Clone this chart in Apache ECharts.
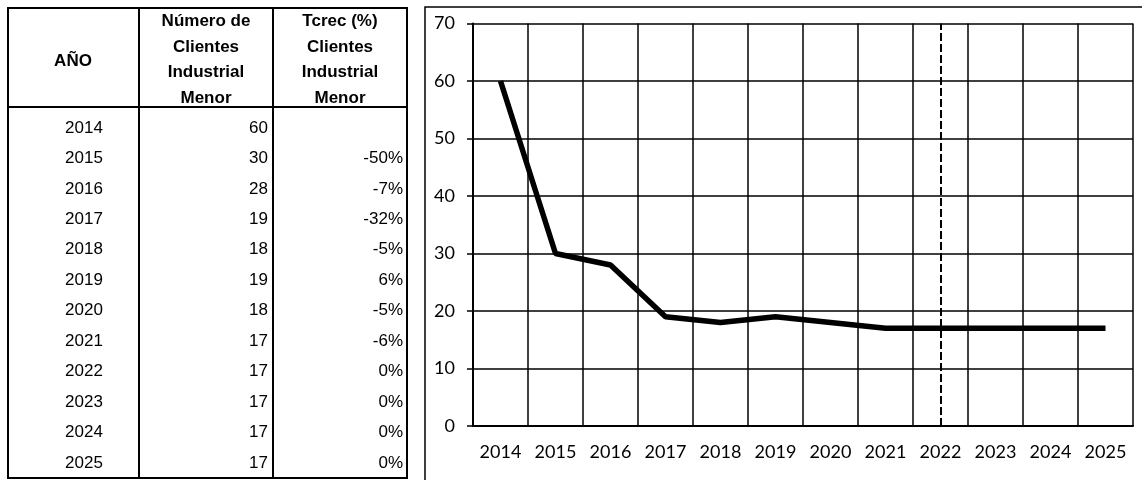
<!DOCTYPE html>
<html>
<head>
<meta charset="utf-8">
<script src="https://cdn.jsdelivr.net/npm/echarts@6/dist/echarts.min.js"></script>
<style>
  html, body { margin: 0; padding: 0; background: #fff; }
  #chart { width: 1142px; height: 480px; }
</style>
</head>
<body>
<div id="chart"></div>
<script>
const years = ['2014', '2015', '2016', '2017', '2018', '2019', '2020', '2021', '2022', '2023', '2024', '2025']
const clientes = [60, 30, 28, 19, 18, 19, 18, 17, 17, 17, 17, 17]
const tcrec = ['', '-50%', '-7%', '-32%', '-5%', '6%', '-5%', '-6%', '0%', '0%', '0%', '0%']
const yTicks = [0, 10, 20, 30, 40, 50, 60, 70]
const corte = '2022'

const chart = echarts.init(document.getElementById('chart'))

// tabla de la izquierda
const tableFont = 'Liberation Sans, Arial, sans-serif'
const line = (x1, y1, x2, y2) => ({
  type: 'line',
  shape: { x1, y1, x2, y2 },
  style: { stroke: '#000', lineWidth: 2 }
})
const txt = (x, y, text, align, bold) => ({
  type: 'text',
  x, y,
  style: {
    text,
    fill: '#000',
    font: (bold ? 'bold ' : '') + '17px ' + tableFont,
    align,
    verticalAlign: 'middle',
    lineHeight: 25.5
  }
})

const graphics = [
  { type: 'rect', shape: { x: 8, y: 8, width: 399, height: 470 }, style: { fill: 'none', stroke: '#000', lineWidth: 2 } },
  line(139, 8, 139, 478),
  line(273, 8, 273, 478),
  line(8, 107, 407, 107),
  txt(73, 61, 'AÑO', 'center', true),
  txt(206, 60, 'Número de\nClientes\nIndustrial\nMenor', 'center', true),
  txt(340, 60, 'Tcrec (%)\nClientes\nIndustrial\nMenor', 'center', true),
  // marco del gráfico
  { type: 'rect', shape: { x: 425, y: 7, width: 730, height: 480 }, style: { fill: 'none', stroke: '#000', lineWidth: 1.5 } }
]
years.forEach((yr, i) => {
  const y = 128 + i * 30.45
  graphics.push(txt(84, y, yr, 'center', false))
  graphics.push(txt(268, y, String(clientes[i]), 'right', false))
  if (tcrec[i]) graphics.push(txt(403, y, tcrec[i], 'right', false))
})

const axisFont = 'Lato, Open Sans, sans-serif'

chart.setOption({
  animation: false,
  backgroundColor: '#fff',
  graphic: graphics,
  grid: { left: 473, right: 9, top: 23.5, bottom: 54 },
  xAxis: {
    type: 'category',
    data: years,
    boundaryGap: true,
    axisLine: { lineStyle: { color: '#000', width: 2 } },
    axisTick: { length: 7, lineStyle: { color: '#000', width: 2 } },
    axisLabel: { color: '#000', fontFamily: axisFont, fontSize: 18, margin: 17, interval: 0 },
    splitLine: { show: true, interval: 0, lineStyle: { color: '#000', width: 1.5 } }
  },
  yAxis: {
    type: 'value',
    min: yTicks[0],
    max: yTicks[yTicks.length - 1],
    interval: 10,
    axisLine: { show: true, lineStyle: { color: '#000', width: 2 } },
    axisTick: { show: true, length: 6, lineStyle: { color: '#000', width: 1.5 } },
    axisLabel: { color: '#000', fontFamily: axisFont, fontSize: 18, margin: 18 },
    splitLine: { show: true, lineStyle: { color: '#000', width: 1.5 } }
  },
  series: [
    {
      type: 'line',
      data: clientes,
      symbol: 'none',
      lineStyle: { color: '#000', width: 5.5 },
      markLine: {
        silent: true,
        symbol: 'none',
        label: { show: false },
        lineStyle: { color: '#000', width: 2, type: [8, 3] },
        data: [{ xAxis: corte }]
      }
    }
  ]
})
</script>
</body>
</html>
